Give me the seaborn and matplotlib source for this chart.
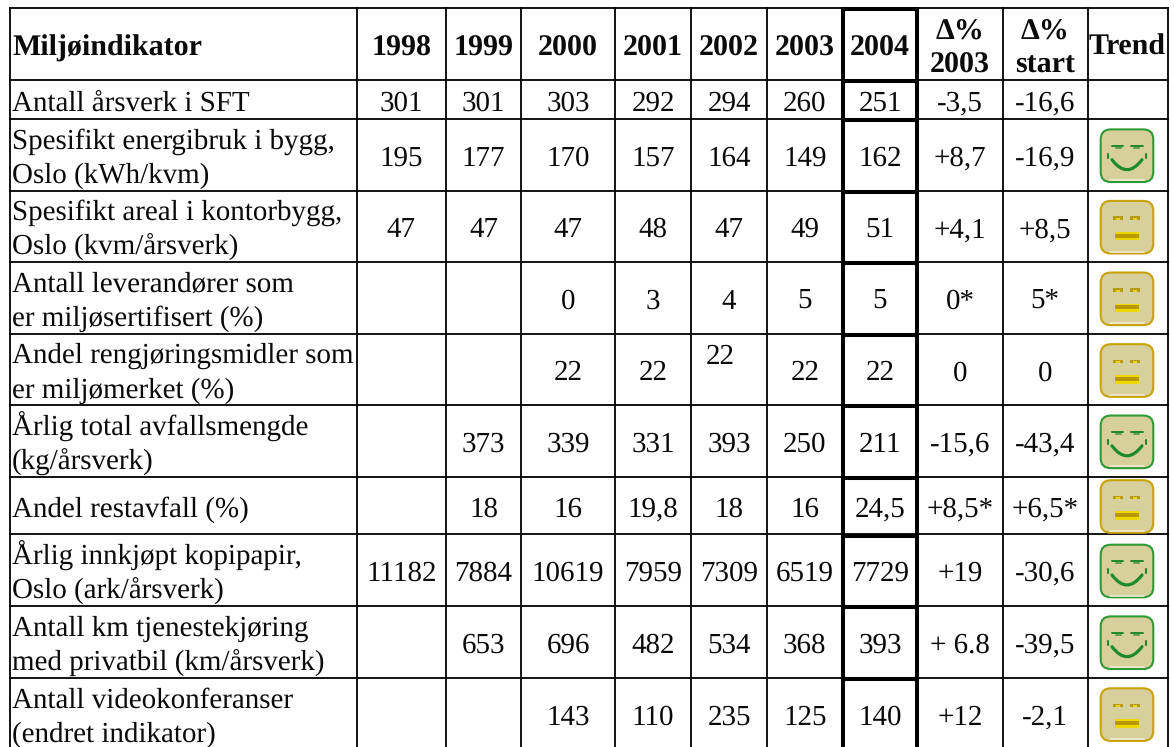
import matplotlib
matplotlib.use("Agg")
import matplotlib.pyplot as plt
from matplotlib.patches import FancyBboxPatch, Rectangle, PathPatch
from matplotlib.path import Path
import pandas as pd
import seaborn as sns

# ---- data ----
head_title = "Miljøindikator"
years = ["1998", "1999", "2000", "2001", "2002", "2003", "2004"]
head_delta = ["Δ%\n2003", "Δ%\nstart"]
head_trend = "Trend"
indicators = [
    "Antall årsverk i SFT",
    "Spesifikt energibruk i bygg,\nOslo (kWh/kvm)",
    "Spesifikt areal i kontorbygg,\nOslo (kvm/årsverk)",
    "Antall leverandører som\ner miljøsertifisert (%)",
    "Andel rengjøringsmidler som\ner miljømerket (%)",
    "Årlig total avfallsmengde\n(kg/årsverk)",
    "Andel restavfall (%)",
    "Årlig innkjøpt kopipapir,\nOslo (ark/årsverk)",
    "Antall km tjenestekjøring\nmed privatbil (km/årsverk)",
    "Antall videokonferanser\n(endret indikator)",
]
v1998 = ["301", "195", "47", "", "", "", "", "11182", "", ""]
v1999 = ["301", "177", "47", "", "", "373", "18", "7884", "653", ""]
v2000 = ["303", "170", "47", "0", "22", "339", "16", "10619", "696", "143"]
v2001 = ["292", "157", "48", "3", "22", "331", "19,8", "7959", "482", "110"]
v2002 = ["294", "164", "47", "4", "22", "393", "18", "7309", "534", "235"]
v2003 = ["260", "149", "49", "5", "22", "250", "16", "6519", "368", "125"]
v2004 = ["251", "162", "51", "5", "22", "211", "24,5", "7729", "393", "140"]
d2003 = ["-3,5", "+8,7", "+4,1", "0*", "0", "-15,6", "+8,5*", "+19", "+ 6.8", "+12"]
dstart = ["-16,6", "-16,9", "+8,5", "5*", "0", "-43,4", "+6,5*", "-30,6", "-39,5", "-2,1"]
trend = ["", "smile", "flat", "flat", "flat", "smile", "flat", "smile", "smile", "flat"]

value_cols = [v1998, v1999, v2000, v2001, v2002, v2003, v2004, d2003, dstart]

# ---- layout (pixels) ----
W, H = 1174, 747
xs = [10, 356.8, 446, 521, 615, 691, 767, 842.7, 917.3, 1002.7, 1087.7, 1167.7]
ys = [7.7, 80, 118.7, 190.7, 261.7, 334, 405, 476.7, 534.3, 605.7, 677.7, 749.5]
FS = 20.9
FS_BOLD = 21.3
THIN, THICK = 1.3, 2.9

sns.set_theme(style="white", rc={"font.family": ["Liberation Serif", "DejaVu Serif"],
                                 "text.hinting": "no_hinting", "text.hinting_factor": 1})
fig = plt.figure(figsize=(W / 100, H / 100), dpi=100, facecolor="white")
ax = fig.add_axes([0, 0, 1, 1])
ax.set_xlim(0, W)
ax.set_ylim(H, 0)

# ---- rules ----
thin_rows = []
for i, x in enumerate(xs):
    if i not in (7, 8):
        thin_rows += [(f"v{i}", x, ys[0]), (f"v{i}", x, H)]
for j, y in enumerate(ys[:-1]):
    thin_rows += [(f"h{j}", xs[0], y), (f"h{j}", xs[-1], y)]
thin_df = pd.DataFrame(thin_rows, columns=["rule", "x", "y"])
sns.lineplot(data=thin_df, x="x", y="y", units="rule", estimator=None, sort=False,
             color="black", lw=THIN, ax=ax, solid_capstyle="projecting")

thick_rows = []
for i in (7, 8):
    thick_rows += [(f"v{i}", xs[i], ys[0] - 0.5), (f"v{i}", xs[i], H)]
for j, y in enumerate(ys[:-1]):
    thick_rows += [(f"h{j}", xs[7], y + 1.4), (f"h{j}", xs[8], y + 1.4)]
thick_df = pd.DataFrame(thick_rows, columns=["rule", "x", "y"])
sns.lineplot(data=thick_df, x="x", y="y", units="rule", estimator=None, sort=False,
             color="black", lw=THICK, ax=ax, solid_capstyle="butt")
ax.set_xlim(0, W)
ax.set_ylim(H, 0)
ax.set_xlabel("")
ax.set_ylabel("")
ax.set_xticks([])
ax.set_yticks([])
sns.despine(ax=ax, left=True, bottom=True)


def txt(x, y, s, ha="center", weight="normal"):
    ax.text(x, y, s, ha=ha, va="baseline", fontsize=FS_BOLD if weight == "bold" else FS,
            weight=weight, color="#0a0a0a", linespacing=1.0)


# ---- header ----
txt(12, 56, head_title, ha="left", weight="bold")
for i, yr in enumerate(years):
    txt((xs[i + 1] + xs[i + 2]) / 2, 56, yr, weight="bold")
for i, h in enumerate(head_delta):
    cx = (xs[8 + i] + xs[9 + i]) / 2
    top, bottom = h.split("\n")
    txt(cx, 40, top, weight="bold")
    txt(cx, 72.7, bottom, weight="bold")
txt((xs[10] + xs[11]) / 2 - 0.5, 55, head_trend, weight="bold")


# ---- smileys ----
def face(cx, cy, kind):
    edge = "#2f9a35" if kind == "smile" else "#c8a208"
    ax.add_patch(FancyBboxPatch((cx - 26.3, cy - 26.3), 52.6, 52.6,
                                boxstyle="round,pad=0,rounding_size=10",
                                fc="#d7d09c", ec=edge, lw=1.5, zorder=3))
    ax.plot([cx - 17, cx + 17], [cy + 24.6, cy + 24.6], color="#f3efd8", lw=1.1, zorder=4)
    if kind == "smile":
        for sign in (-1, 1):
            ax.plot([cx + sign * 15.5, cx + sign * 4], [cy - 9.6, cy - 9.6], color="#1f8a2c", lw=1.4, zorder=4)
            ax.plot([cx + sign * 11.5, cx + sign * 6.5], [cy - 7.6, cy - 7.6], color="#5f9f55", lw=1.4, zorder=4)
            ax.plot([cx + sign * 19.3, cx + sign * 19.3], [cy - 2, cy + 2], color="#1f8a2c", lw=1.5, zorder=4)
        p = PathPatch(Path([(cx - 15, cy + 4), (cx, cy + 24), (cx + 15, cy + 4)],
                           [Path.MOVETO, Path.CURVE3, Path.CURVE3]),
                      fc="none", ec="#1f8a2c", lw=2.3, capstyle="round", zorder=4)
        ax.add_patch(p)
    else:
        for x0 in (-14.3, 2.7):
            ax.add_patch(Rectangle((cx + x0, cy - 11), 10.5, 3.8, fc="#b89c10", ec="none", zorder=4))
            ax.add_patch(Rectangle((cx + x0 + 3.5, cy - 9.2), 3.5, 2, fc="#e6d420", ec="none", zorder=4))
        ax.add_patch(Rectangle((cx - 11.7, cy + 4.7), 23.4, 8.3, fc="#ecd800", ec="none", zorder=4))
        ax.add_patch(Rectangle((cx - 11.7, cy + 6.6), 23.4, 4, fc="#b89a00", ec="none", zorder=4))


# ---- body ----
for r, label in enumerate(indicators):
    cy = (ys[r + 1] + ys[r + 2]) / 2
    parts = label.split("\n")
    if len(parts) == 1:
        txt(12, cy + 11.5, parts[0], ha="left")
    else:
        txt(12, cy - 6.3, parts[0], ha="left")
        txt(12, cy + 28, parts[1], ha="left")
    for c, col in enumerate(value_cols):
        s = col[r]
        if not s:
            continue
        cx = (xs[c + 1] + xs[c + 2]) / 2
        if indicators[r].startswith("Andel reng") and c == 4:
            txt(cx - 9, cy - 5.5, s)   # the raised cell of the original
        else:
            txt(cx, cy + 11, s)
    if trend[r]:
        face((xs[10] + xs[11]) / 2 - 0.7, cy + 1, trend[r])

fig.savefig("out.png", dpi=100, facecolor="white")
